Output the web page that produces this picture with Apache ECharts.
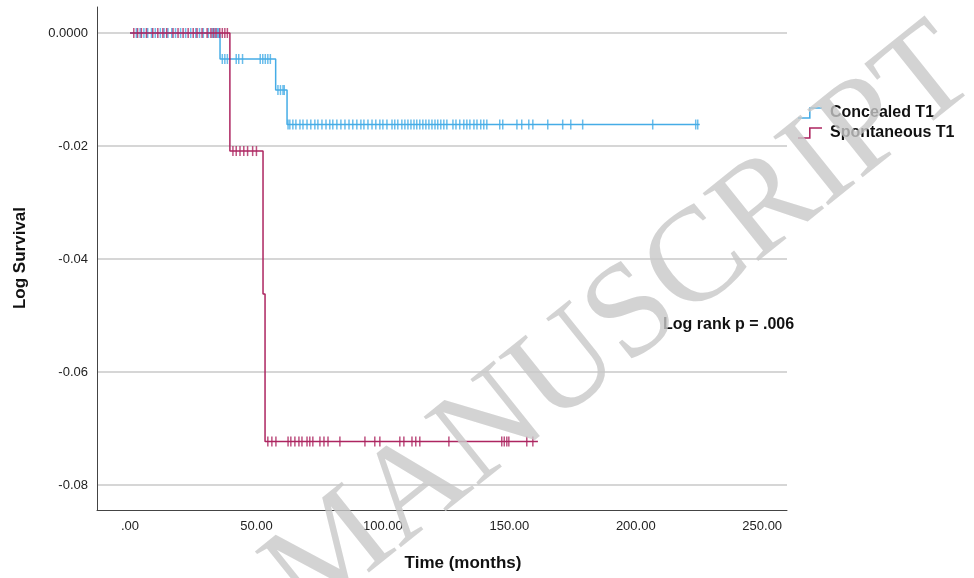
<!DOCTYPE html>
<html>
<head>
<meta charset="utf-8">
<script src="https://cdn.jsdelivr.net/npm/echarts@6/dist/echarts.min.js"></script>
<style>html,body{margin:0;padding:0;background:#fff;}#c{width:974px;height:578px;}</style>
</head>
<body>
<div id="c"></div>
<script>
// ---- data ----
const seriesNames = ['Concealed T1', 'Spontaneous T1'];
const concealedStepTimes = [0, 35.6, 57.6, 62.1, 225.3];
const concealedStepLogSurv = [0, -0.0046, -0.0101, -0.0162, -0.0162];
const spontaneousStepTimes = [0, 39.5, 52.6, 53.4, 161.3];
const spontaneousStepLogSurv = [0, -0.0209, -0.0462, -0.0723, -0.0723];
const concealedCensorTimes = [2.5, 4, 5.5, 7, 8.5, 10, 12, 13.5, 15, 16.5, 18, 20, 22, 24, 26, 27.5, 29, 31, 32.5, 33.5, 34.5, 35,
  36.5, 37.5, 38.5, 42, 43, 44.5, 51.5, 52.5, 53.5, 54.5, 55.5,
  58.5, 59.5, 60.5, 61,
  62.5, 63.2, 64.4, 65.6, 67.2, 68.4, 70, 71.5, 73.1, 74.3, 75.9, 77.5, 79, 80.2, 81.8, 83.4, 85, 86.6, 88.1, 89.7,
  91.3, 92.5, 94.1, 95.7, 97.2, 98.8, 100, 101.6, 103.6, 104.7, 105.9, 107.5, 108.7, 109.9, 111.1, 112.3, 113.4,
  114.6, 115.8, 117, 118.2, 119.4, 120.6, 121.7, 122.9, 124.1, 125.3, 127.7, 128.9, 130.4, 132, 133.2, 134.4, 136,
  137.2, 138.7, 139.9, 141.1, 146.2, 147.4, 153, 154.9, 157.7, 159.3, 165.2, 171.1, 174.3, 179, 206.7, 223.7, 224.5];
const spontaneousCensorTimes = [1.5, 3, 4.5, 6.5, 9, 11, 13, 14.5, 17, 19, 21, 23, 25, 26.5, 28.5, 30.5, 32, 33, 34, 35.5, 36.5, 37.5, 38.5,
  40.7, 42, 43.5, 45, 46.5, 48.5, 50,
  54.5, 56.1, 57.7, 62.5, 63.6, 65.2, 66.8, 68, 70, 71.1, 72.3, 75.1, 76.7, 78.3, 83, 92.9, 96.8, 98.8, 106.7, 108.3,
  111.5, 113, 114.6, 126.1, 147, 148, 149, 149.8, 156.9, 159.3];
const xTickValues = [0, 50, 100, 150, 200, 250];
const xTickLabels = ['.00', '50.00', '100.00', '150.00', '200.00', '250.00'];
const yTickValues = [0, -0.02, -0.04, -0.06, -0.08];
const yTickLabels = ['0.0000', '-0.02', '-0.04', '-0.06', '-0.08'];
const xTitle = 'Time (months)';
const yTitle = 'Log Survival';
const annotation = 'Log rank p = .006';
const watermark = 'MANUSCRIPT';

// ---- helpers ----
function pairs(xs, ys) { return xs.map((x, i) => [x, ys[i]]); }
function levelAt(times, vals, t) {
  let v = vals[0];
  for (let i = 0; i < times.length; i++) { if (times[i] <= t) v = vals[i]; }
  return v;
}
function censorPoints(ct, times, vals) { return ct.map(t => [t, levelAt(times, vals, t)]); }
function lookup(values, labels, v) {
  for (let i = 0; i < values.length; i++) { if (Math.abs(values[i] - v) < 1e-6 * Math.max(1, Math.abs(values[i]))) return labels[i]; }
  return '';
}

const BLUE = '#45ace6';
const RED = '#ad2560';
const stepIcon = 'path://M0,10 L11,10 L11,0 L24,0 L24,1.6 L12.6,1.6 L12.6,11.6 L0,11.6 Z';

const chart = echarts.init(document.getElementById('c'), null, { renderer: 'canvas' });
chart.setOption({
  animation: false,
  backgroundColor: '#ffffff',
  textStyle: { fontFamily: 'Liberation Sans, Arial, sans-serif' },
  grid: { left: 97, right: 187, top: 7, bottom: 68, containLabel: false },
  xAxis: {
    type: 'value', min: -13.05, max: 259.8, splitNumber: 5,
    axisLine: { show: true, onZero: false, lineStyle: { color: '#444', width: 1 } },
    axisTick: { show: false },
    splitLine: { show: false },
    axisLabel: { margin: 10, fontSize: 13, color: '#222', showMinLabel: false, showMaxLabel: false,
      formatter: v => lookup(xTickValues, xTickLabels, v) }
  },
  yAxis: {
    type: 'value', min: -0.08443, max: 0.0046, splitNumber: 5,
    axisLine: { show: true, onZero: false, lineStyle: { color: '#444', width: 1 } },
    axisTick: { show: false },
    splitLine: { show: true, showMinLine: false, showMaxLine: false, lineStyle: { color: '#c9c9c9', width: 1.5 } },
    axisLabel: { margin: 9, fontSize: 13, color: '#222', showMinLabel: false, showMaxLabel: false,
      formatter: v => lookup(yTickValues, yTickLabels, v) }
  },
  legend: {
    orient: 'vertical', left: 793, top: 100, itemWidth: 24, itemHeight: 12, itemGap: 4,
    data: [{ name: seriesNames[0], icon: stepIcon }, { name: seriesNames[1], icon: stepIcon }],
    textStyle: { fontSize: 16, fontWeight: 'bold', color: '#111', padding: [0, 0, 0, 3] }
  },
  graphic: [
    { type: 'text', left: 663, top: 317, style: { text: annotation, font: 'bold 16px "Liberation Sans", Arial, sans-serif', fill: '#111' } },
    { type: 'text', x: 20, y: 258, rotation: Math.PI / 2, style: { text: yTitle, font: 'bold 17px "Liberation Sans", Arial, sans-serif', fill: '#111', align: 'center', verticalAlign: 'middle' } },
    { type: 'text', x: 463, y: 563, style: { text: xTitle, font: 'bold 17px "Liberation Sans", Arial, sans-serif', fill: '#111', align: 'center', verticalAlign: 'middle' } },
    { type: 'text', x: 622, y: 325, rotation: 0.675, z: 100, silent: true,
      style: { text: watermark, font: '134px "Liberation Serif", "Times New Roman", serif', fill: 'rgba(200,200,200,0.8)', align: 'center', verticalAlign: 'middle' } }
  ],
  series: [
    { name: seriesNames[0], type: 'line', step: 'end', data: pairs(concealedStepTimes, concealedStepLogSurv),
      showSymbol: false, lineStyle: { color: BLUE, width: 1.5 }, itemStyle: { color: BLUE }, z: 2 },
    { name: seriesNames[1], type: 'line', step: 'end', data: pairs(spontaneousStepTimes, spontaneousStepLogSurv),
      showSymbol: false, lineStyle: { color: RED, width: 1.5 }, itemStyle: { color: RED }, z: 3 },
    { name: seriesNames[0] + ' censored', type: 'scatter', data: censorPoints(concealedCensorTimes, concealedStepTimes, concealedStepLogSurv),
      symbol: 'rect', symbolSize: [1.5, 10], itemStyle: { color: BLUE }, z: 2 },
    { name: seriesNames[1] + ' censored', type: 'scatter', data: censorPoints(spontaneousCensorTimes, spontaneousStepTimes, spontaneousStepLogSurv),
      symbol: 'rect', symbolSize: [1.5, 10], itemStyle: { color: RED }, z: 3 }
  ]
});
</script>
</body>
</html>
